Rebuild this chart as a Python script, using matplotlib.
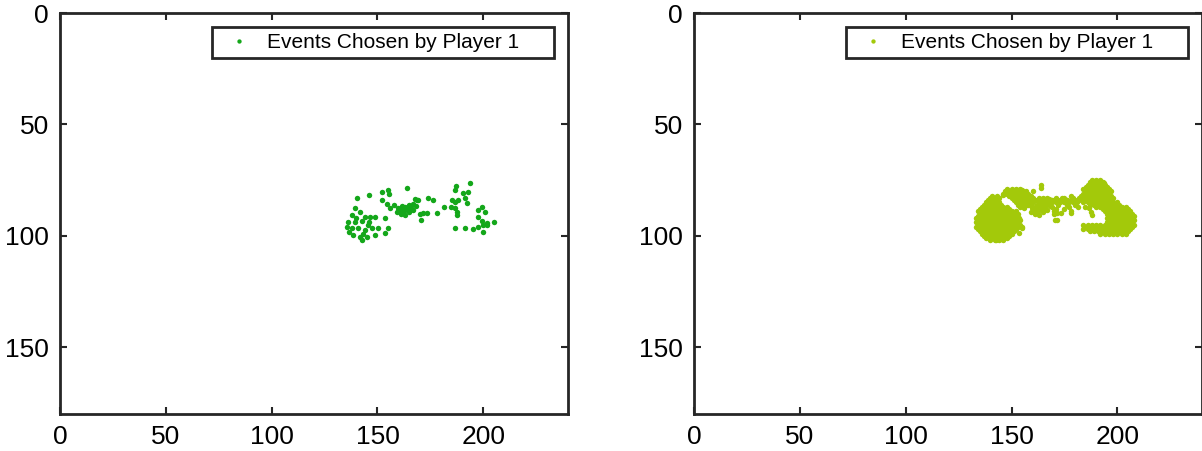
import numpy as np
import matplotlib.pyplot as plt
plt.switch_backend('agg')

plt.rcParams['font.family'] = ['Liberation Sans', 'DejaVu Sans']

# events picked by player 1 (x, y in sensor pixels)
left_x = [140.4, 145.8, 163.8, 152.0, 155.0, 155.5, 152.2, 154.3, 155.9,
          158.0, 159.5, 160.5, 161.5, 162.5, 163.0, 164.0, 165.0, 166.0, 167.0,
          168.0, 159.0, 161.0, 163.0, 165.0, 167.0, 160.0, 162.5, 164.5,
          168.5, 170.0, 170.5,
          139.3, 141.7, 144.0, 146.4, 148.8, 136.2, 139.3, 145.6, 135.4, 137.8,
          140.9, 144.1, 147.2, 138.5, 141.7, 144.9, 148.8, 150.4, 153.5, 155.1,
          153.5, 142.5, 138.0, 142.5, 146.0, 136.5, 143.0, 140.0,
          167.7, 169.3, 174.0, 176.3, 171.6, 173.2, 178.0, 181.5,
          186.9, 186.6, 193.7, 190.5, 192.9, 185.0, 186.6, 188.1, 191.3, 192.1,
          184.7, 186.6, 187.4, 187.8, 197.6, 199.2, 200.8, 199.2, 200.0, 201.6,
          205.0, 186.6, 191.3, 195.2, 197.6, 200.0, 201.6, 197.6]
left_y = [83.2, 81.7, 78.4, 80.5, 79.5, 81.0, 83.9, 85.9, 87.7,
          86.0, 87.5, 88.5, 86.5, 89.0, 87.0, 88.0, 86.0, 87.5, 85.5,
          86.5, 89.5, 90.0, 90.5, 89.5, 88.5, 88.0, 88.0, 87.0,
          83.9, 90.0, 92.9,
          87.7, 89.2, 91.4, 91.4, 91.4, 93.7, 93.7, 95.2, 95.9, 96.7,
          96.7, 97.4, 96.7, 99.6, 100.4, 100.4, 99.6, 96.7, 92.1, 96.7,
          98.9, 102.0, 90.5, 93.5, 94.0, 98.5, 99.0, 92.0,
          83.5, 83.9, 83.2, 83.9, 89.9, 89.9, 89.9, 87.2,
          77.5, 79.4, 76.4, 80.9, 80.2, 83.9, 84.7, 83.9, 83.2, 85.4,
          86.9, 87.7, 89.2, 90.7, 88.4, 86.9, 89.2, 93.4, 95.2, 94.4,
          93.7, 96.7, 96.7, 97.0, 95.9, 98.2, 95.2, 91.4]

# second run: dense cloud, listed row by row (y: x values)
right_rows = {
    75: [188, 190, 192],
    76: [187, 189, 191, 193],
    77: [163.8, 186, 188, 190, 192, 194],
    78: [185, 187, 189, 191, 193, 195],
    79: [148, 150, 152, 154, 184, 186, 188, 190, 192, 194, 196],
    80: [147, 149, 151, 153, 155, 157, 160, 185, 187, 189, 191, 193, 195, 197],
    81: [146, 148, 150, 152, 154, 156, 158, 184, 186, 188, 190, 192, 194, 196],
    82: [141, 143, 149, 151, 153, 155, 157, 159, 178, 183, 185, 187, 189, 191,
         193, 195, 197],
    83: [140, 142, 144, 150, 152, 154, 156, 158, 160, 163, 165, 167, 171, 175,
         179, 182, 184, 186, 188, 190, 192, 194, 196, 198],
    84: [139, 141, 143, 151, 153, 155, 157, 159, 161, 162, 164, 166, 168, 170,
         172, 174, 176, 178, 180, 183, 185, 187, 189, 191, 193, 195, 197],
    85: [138, 140, 142, 144, 152, 154, 156, 158, 160, 163, 165, 167, 169, 171,
         173, 175, 177, 179, 181, 184, 186, 188, 190, 192, 194, 196, 198, 200],
    86: [137, 139, 141, 143, 145, 153, 155, 157, 159, 162, 164, 166, 168, 172,
         176, 180, 187, 189, 191, 193, 195, 197, 199, 201],
    87: [136, 138, 140, 142, 144, 146, 148, 154, 156, 165, 169, 177, 190, 192,
         194, 196, 198, 200, 202, 204],
    88: [135, 137, 139, 141, 143, 145, 147, 149, 166, 171, 175, 193, 195, 197,
         199, 201, 203, 205],
    89: [134, 136, 138, 140, 142, 144, 146, 148, 150, 152, 170, 178, 194, 196,
         198, 200, 202, 204, 206],
    90: [135, 137, 139, 141, 143, 145, 147, 149, 151, 153, 195, 197, 199, 201,
         203, 205, 207],
    91: [134, 136, 138, 140, 142, 144, 146, 148, 150, 152, 196, 198, 200, 202,
         204, 206, 208],
    92: [133, 135, 137, 139, 141, 143, 145, 147, 149, 151, 153, 195, 197, 199,
         201, 203, 205, 207],
    93: [134, 136, 138, 140, 142, 144, 146, 148, 150, 152, 154, 171.7, 196, 198,
         200, 202, 204, 206, 208],
    94: [133, 135, 137, 139, 141, 143, 145, 147, 149, 151, 153, 195, 197, 199,
         201, 203, 205, 207],
    95: [134, 136, 138, 140, 142, 144, 146, 148, 150, 152, 154, 184, 186, 188,
         190, 192, 194, 196, 198, 200, 202, 204, 206, 208],
    96: [133, 135, 137, 139, 141, 143, 145, 147, 149, 151, 153, 155, 185, 187,
         189, 191, 193, 195, 197, 199, 201, 203, 205, 207],
    97: [134, 136, 138, 140, 142, 144, 146, 148, 150, 152, 184, 186, 188, 190,
         192, 194, 196, 198, 200, 202, 204, 206],
    98: [135, 137, 139, 141, 143, 145, 147, 149, 151, 187, 189, 191, 193, 195,
         197, 199, 201, 203, 205],
    99: [136, 138, 140, 142, 144, 146, 148, 150, 192, 194, 196, 198, 200, 202, 204],
    100: [137, 139, 141, 143, 145, 147, 149],
    101: [138, 140, 142, 144, 146, 148],
    102: [140, 142, 144, 146],
}
right_x = [x for y, xs in right_rows.items() for x in xs] + left_x
right_y = [y for y, xs in right_rows.items() for x in xs] + left_y

label = 'Events Chosen by Player 1     '
colors = ['#14a71a', '#a3c90a']
xticks = [0, 50, 100, 150, 200]
yticks = [0, 50, 100, 150]

fig = plt.figure(figsize=(12.02, 4.51), dpi=100)
ax1 = fig.add_axes([0.0499, 0.082, 0.4226, 0.889])
ax2 = fig.add_axes([0.5774, 0.082, 0.4226, 0.889])

for ax, xs, ys, c in [(ax1, left_x, left_y, colors[0]), (ax2, right_x, right_y, colors[1])]:
    ax.plot(xs, ys, 'o', color=c, markersize=3.9, markeredgewidth=0, label=label)
    ax.set_xlim(0, 240)
    ax.set_ylim(180, 0)
    ax.set_xticks(xticks)
    ax.set_yticks(yticks)
    ax.tick_params(direction='in', length=5, width=1.5, top=True, right=True,
                   labelsize=19, color='#262626', pad=8)
    for s in ax.spines.values():
        s.set_linewidth(2)
        s.set_color('#262626')
    leg = ax.legend(loc='upper right', fontsize=15, fancybox=False, framealpha=1,
                    edgecolor='#262626', borderaxespad=0.65, markerscale=0.8,
                    handletextpad=0.35, borderpad=0.3)
    leg.get_frame().set_linewidth(2)

fig.savefig('out.png', dpi=100)
